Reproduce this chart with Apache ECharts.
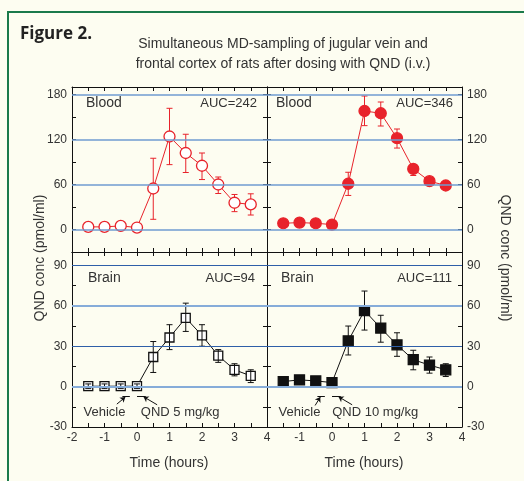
<!DOCTYPE html>
<html><head><meta charset="utf-8">
<script src="https://cdn.jsdelivr.net/npm/echarts@6/dist/echarts.min.js"></script>
<style>html,body{margin:0;padding:0;background:#fdfdf1}#c{width:524px;height:481px}</style>
</head><body><div id="c"></div>
<script>
// ---- data ----
const hours = [-1.5, -1, -0.5, 0, 0.5, 1, 1.5, 2, 2.5, 3, 3.5];
const blood5   = [3.5, 3.5, 4.8, 2.6, 54.7, 124, 102, 85, 60, 35.7, 33.5];
const blood5Lo = [2, 2, 3, 1, 13.6, 86.5, 76, 66.6, 48, 23.8, 19.3];
const blood5Hi = [5, 5, 6.5, 4, 95, 161.6, 127, 102, 70, 46.7, 47.6];
const blood10   = [8.3, 9.2, 8.3, 6.6, 61, 158, 155, 121.8, 80.8, 64.4, 58.7];
const blood10Lo = [7, 8, 7, 5, 45.4, 138.5, 138, 108.6, 72, 61, 55];
const blood10Hi = [9.5, 10.5, 9.5, 8, 76.3, 178, 170, 134, 86.5, 68, 62];
const brain5   = [0.3, 0.3, 0.3, 0.3, 22, 36.5, 51, 38, 23, 12.5, 8];
const brain5Lo = [-1.5, -1.5, -1.5, -1.5, 10.5, 27.5, 41, 30, 18, 8, 3];
const brain5Hi = [2, 2, 2, 2, 33.5, 46, 62, 46, 27.5, 17, 12.5];
const brain10   = [3.75, 5, 4.25, 3, 34, 56.5, 43.5, 31, 20, 16, 12.5];
const brain10Lo = [2, 1.75, 2.5, 1.5, 23.5, 42, 33, 22.5, 12.5, 10, 7.5];
const brain10Hi = [5.5, 8, 6, 4.5, 45, 71, 53, 40, 27, 22, 17];
const bloodTicks = [0, 60, 120, 180];
const brainTicks = [-30, 0, 30, 60, 90];
const xTicks = [-2, -1, 0, 1, 2, 3, 4];
const panelNames = ['Blood', 'Blood', 'Brain', 'Brain'];
const aucLabels = ['AUC=242', 'AUC=346', 'AUC=94', 'AUC=111'];
const doseLabels = ['QND 5 mg/kg', 'QND 10 mg/kg'];

const FONT = "'Liberation Sans Narrow','Liberation Sans',sans-serif";
const TXT = '#333';
const RED = '#e8232b';
const grids = [
  {left: 72, top: 87, width: 195, height: 165},
  {left: 267, top: 87, width: 195, height: 165},
  {left: 72, top: 252, width: 195, height: 175},
  {left: 267, top: 252, width: 195, height: 175}
];
const nameOffset = [[14, 16], [9, 16], [16, 26], [14, 26]];
const aucOffset = [[10, 16], [9, 16], [12, 26], [10, 26]];

function pts(v) { return hours.map((h, i) => [h, v[i]]); }
function errs(lo, hi) { return hours.map((h, i) => [h, lo[i], hi[i]]); }

function errRender(color) {
  return function (params, api) {
    const x = api.value(0), lo = api.value(1), hi = api.value(2);
    const a = api.coord([x, lo]), b = api.coord([x, hi]);
    const w = 3, st = {stroke: color, lineWidth: 1};
    return {type: 'group', children: [
      {type: 'line', shape: {x1: a[0], y1: a[1], x2: b[0], y2: b[1]}, style: st},
      {type: 'line', shape: {x1: a[0] - w, y1: a[1], x2: a[0] + w, y2: a[1]}, style: st},
      {type: 'line', shape: {x1: b[0] - w, y1: b[1], x2: b[0] + w, y2: b[1]}, style: st}
    ]};
  };
}

const xAxes = [], yAxes = [];
grids.forEach((g, i) => {
  const base = {
    type: 'value', gridIndex: i, min: -2, max: 4, interval: 0.5,
    axisLine: {show: true, onZero: false, lineStyle: {color: '#111', width: 1}},
    axisTick: {show: true, inside: true, length: 4, lineStyle: {color: '#111'}},
    splitLine: {show: false}
  };
  xAxes.push(Object.assign({}, base, {
    position: 'bottom',
    axisLabel: {
      show: i >= 2, showMinLabel: i !== 3, color: TXT, fontFamily: FONT, fontSize: 12, margin: 5,
      formatter: v => xTicks.includes(v) ? String(v) : ''
    }
  }));
  xAxes.push(Object.assign({}, base, {position: 'top', axisLabel: {show: false}}));
  const isBlood = i < 2;
  const ybase = {
    type: 'value', gridIndex: i, min: -30, max: isBlood ? 190 : 100, interval: isBlood ? 30 : 15,
    axisLine: {show: true, onZero: false, lineStyle: {color: '#111', width: 1}},
    axisTick: {show: true, inside: true, length: 4, lineStyle: {color: '#111'}},
    splitLine: {show: false}
  };
  const labs = isBlood ? bloodTicks : brainTicks;
  const lab = {
    color: TXT, fontFamily: FONT, fontSize: 12, margin: 5,
    showMaxLabel: false,
    formatter: v => labs.includes(v) ? String(v) : ''
  };
  yAxes.push(Object.assign({}, ybase, {position: 'left',
    axisLabel: Object.assign({show: i % 2 === 0}, lab)}));
  yAxes.push(Object.assign({}, ybase, {position: 'right',
    axisLabel: Object.assign({show: i % 2 === 1}, lab)}));
});

const series = [];
const gridLineBlood = bloodTicks.map(v => ({yAxis: v, lineStyle: {color: '#6f9bd1', width: 1.6}}));
const gridLineBrain = [
  {yAxis: 0, lineStyle: {color: '#86acd9', width: 2}},
  {yAxis: 30, lineStyle: {color: '#2f5fa8', width: 1}},
  {yAxis: 60, lineStyle: {color: '#86acd9', width: 2}},
  {yAxis: 90, lineStyle: {color: '#2f5fa8', width: 1}}
];

const panels = [
  {v: blood5, lo: blood5Lo, hi: blood5Hi, color: RED, symbol: 'circle', size: 11, open: true},
  {v: blood10, lo: blood10Lo, hi: blood10Hi, color: RED, symbol: 'circle', size: 11, open: false},
  {v: brain5, lo: brain5Lo, hi: brain5Hi, color: '#111', symbol: 'rect', size: 9, open: true},
  {v: brain10, lo: brain10Lo, hi: brain10Hi, color: '#111', symbol: 'rect', size: 10, open: false}
];

panels.forEach((p, i) => {
  const isBlood = i < 2;
  const ml = {
    silent: true, symbol: 'none', label: {show: false},
    lineStyle: {type: 'solid'},
    data: (isBlood ? gridLineBlood : gridLineBrain).slice()
  };
  let mp = undefined;
  if (!isBlood) {
    const lc = {color: '#111', width: 1, type: 'solid'};
    const left = i === 2;
    ml.data.push(
      [{coord: [-0.45, -7], lineStyle: lc, symbol: 'none'}, {coord: [-0.22, -7], symbol: 'none'}],
      [{coord: [0, -7], lineStyle: lc, symbol: 'none'}, {coord: [0.27, -7], symbol: 'none'}],
      [{coord: left ? [-0.62, -13] : [-0.52, -14], lineStyle: lc, symbol: 'none'}, {coord: [-0.36, -7.8], symbol: 'arrow', symbolSize: 5}],
      [{coord: [0.62, -13.5], lineStyle: lc, symbol: 'none'}, {coord: [0.2, -7.5], symbol: 'arrow', symbolSize: 5}]
    );
    mp = {
      silent: true, symbol: 'circle', symbolSize: 0,
      label: {show: true, position: 'inside', formatter: '{b}', color: TXT, fontFamily: FONT, fontSize: 13},
      data: [
        {name: 'Vehicle', coord: [-1, -19.5]},
        {name: doseLabels[i - 2], coord: [1.33, -19.5]}
      ]
    };
  }
  series.push({
    type: 'line', xAxisIndex: 2 * i, yAxisIndex: 2 * i, data: [], z: 1,
    markLine: ml, markPoint: mp
  });
  series.push({
    type: 'line', xAxisIndex: 2 * i, yAxisIndex: 2 * i, data: pts(p.v), z: 3,
    symbol: p.symbol, symbolSize: p.size, showAllSymbol: true,
    lineStyle: {color: p.color, width: 1},
    itemStyle: {color: p.open ? '#ffffff' : p.color, borderColor: p.color, borderWidth: 1.3},
    emphasis: {disabled: true}, animation: false
  });
  series.push({
    type: 'custom', xAxisIndex: 2 * i, yAxisIndex: 2 * i, data: errs(p.lo, p.hi),
    encode: {x: 0, y: [1, 2]}, renderItem: errRender(p.color), z: (i === 2) ? 4 : 2, silent: true
  });
});

const graphic = [
  {type: 'rect', shape: {x: 8, y: 12, width: 600, height: 600}, style: {fill: 'none', stroke: '#1b7a4b', lineWidth: 2}, silent: true},
  {type: 'text', left: 20, top: 26, style: {text: 'Figure 2.', font: "bold 17px 'Open Sans','Liberation Sans',sans-serif", fill: '#222'}},
  {type: 'text', x: 283, y: 44, style: {text: 'Simultaneous MD-sampling of jugular vein and', font: '14px ' + FONT, fill: TXT, textAlign: 'center', textVerticalAlign: 'middle'}},
  {type: 'text', x: 283, y: 64, style: {text: 'frontal cortex of rats after dosing with QND (i.v.)', font: '14px ' + FONT, fill: TXT, textAlign: 'center', textVerticalAlign: 'middle'}},
  {type: 'text', x: 40, y: 258, rotation: Math.PI / 2, style: {text: 'QND conc (pmol/ml)', font: '14px ' + FONT, fill: TXT, textAlign: 'center', textVerticalAlign: 'middle'}},
  {type: 'text', x: 505, y: 258, rotation: -Math.PI / 2, style: {text: 'QND conc (pmol/ml)', font: '14px ' + FONT, fill: TXT, textAlign: 'center', textVerticalAlign: 'middle'}},
  {type: 'text', x: 169, y: 463, style: {text: 'Time (hours)', font: '14px ' + FONT, fill: TXT, textAlign: 'center', textVerticalAlign: 'middle'}},
  {type: 'text', x: 364, y: 463, style: {text: 'Time (hours)', font: '14px ' + FONT, fill: TXT, textAlign: 'center', textVerticalAlign: 'middle'}}
];
grids.forEach((g, i) => {
  graphic.push({type: 'text', x: g.left + nameOffset[i][0], y: g.top + nameOffset[i][1], style: {text: panelNames[i], font: '14px ' + FONT, fill: TXT, textAlign: 'left', textVerticalAlign: 'middle'}});
  graphic.push({type: 'text', x: g.left + g.width - aucOffset[i][0], y: g.top + aucOffset[i][1], style: {text: aucLabels[i], font: '13px ' + FONT, fill: TXT, textAlign: 'right', textVerticalAlign: 'middle'}});
});

const chart = echarts.init(document.getElementById('c'), null, {renderer: 'canvas'});
chart.setOption({
  backgroundColor: '#fdfdf1',
  animation: false,
  grid: grids,
  xAxis: xAxes,
  yAxis: yAxes,
  series: series,
  graphic: graphic
});
</script></body></html>
